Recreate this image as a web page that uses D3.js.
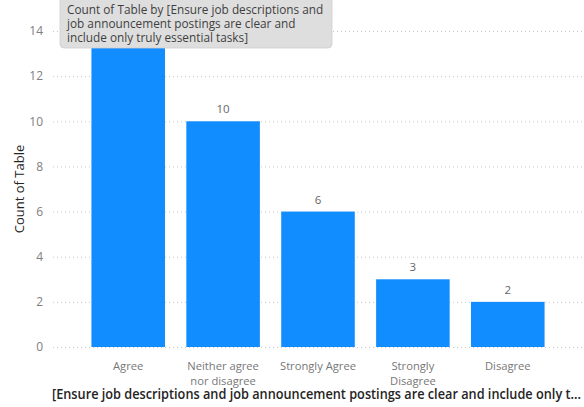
<!DOCTYPE html>
<html>
<head>
<meta charset="utf-8">
<script src="https://cdn.jsdelivr.net/npm/d3@7"></script>
<style>
  html, body { margin: 0; padding: 0; background: #fff; }
  svg { display: block; font-family: "Open Sans", "Noto Sans", sans-serif; }
</style>
</head>
<body>
<svg id="chart" width="584" height="407"></svg>
<script>
// Responses per answer
const categories = ["Agree", "Neither agree nor disagree", "Strongly Agree", "Strongly Disagree", "Disagree"];
const categoryLines = [["Agree"], ["Neither agree", "nor disagree"], ["Strongly Agree"], ["Strongly", "Disagree"], ["Disagree"]];
const counts = [14, 10, 6, 3, 2];
const yTicks = [0, 2, 4, 6, 8, 10, 12, 14];
const yTitle = "Count of Table";
const xTitle = "[Ensure job descriptions and job announcement postings are clear and include only t...";
const tooltipLines = [
  "Count of Table by [Ensure job descriptions and",
  "job announcement postings are clear and",
  "include only truly essential tasks]"
];

const svg = d3.select("#chart");
const plot = { left: 53, right: 584, top: 31, bottom: 347 };

const x = d3.scaleBand()
  .domain(categories)
  .range([81, 555])
  .paddingInner(0.225)
  .paddingOuter(0.11);

const y = d3.scaleLinear()
  .domain([0, 14])
  .range([plot.bottom, plot.top]);

// dotted gridlines
svg.append("g")
  .selectAll("line")
  .data(yTicks)
  .join("line")
  .attr("x1", plot.left)
  .attr("x2", plot.right)
  .attr("y1", d => y(d) + 0.5)
  .attr("y2", d => y(d) + 0.5)
  .attr("stroke", "#c8c8c8")
  .attr("stroke-width", 1)
  .attr("stroke-dasharray", "1,3");

// y axis tick labels
const yAxis = svg.append("g")
  .attr("transform", `translate(${43},0)`)
  .call(d3.axisLeft(y).tickValues(yTicks).tickSize(0).tickPadding(0));
yAxis.select(".domain").remove();
yAxis.selectAll("text")
  .attr("fill", "#808080")
  .style("font-size", "12px")
  .style("font-family", "\"Open Sans\", sans-serif");

// y axis title
svg.append("text")
  .attr("transform", `translate(24,${189}) rotate(-90)`)
  .attr("text-anchor", "middle")
  .attr("fill", "#252423")
  .style("font-size", "13px")
  .text(yTitle);

// bars
svg.append("g")
  .selectAll("rect")
  .data(categories)
  .join("rect")
  .attr("x", d => x(d))
  .attr("width", x.bandwidth())
  .attr("y", (d, i) => y(counts[i]))
  .attr("height", (d, i) => y(0) - y(counts[i]))
  .attr("fill", "#118DFF");

// value labels
svg.append("g")
  .selectAll("text")
  .data(categories)
  .join("text")
  .attr("x", d => x(d) + x.bandwidth() / 2)
  .attr("y", (d, i) => y(counts[i]) - 8)
  .attr("text-anchor", "middle")
  .attr("fill", "#666")
  .style("font-size", "11.5px")
  .text((d, i) => counts[i]);

// category labels
const catG = svg.append("g");
categories.forEach((c, i) => {
  const t = catG.append("text")
    .attr("x", x(c) + x.bandwidth() / 2)
    .attr("y", 370)
    .attr("text-anchor", "middle")
    .attr("fill", "#777")
    .style("font-size", "11.2px");
  categoryLines[i].forEach((line, j) => {
    t.append("tspan")
      .attr("x", x(c) + x.bandwidth() / 2)
      .attr("dy", j === 0 ? 0 : 14.5)
      .text(line);
  });
});

// x axis title
svg.append("text")
  .attr("x", 52)
  .attr("y", 399)
  .attr("fill", "#252423")
  .attr("textLength", 529)
  .attr("lengthAdjust", "spacingAndGlyphs")
  .style("font-size", "13.6px")
  .style("font-weight", "600")
  .text(xTitle);

// tooltip
const tip = svg.append("g");
tip.append("rect")
  .attr("x", 60)
  .attr("y", -6)
  .attr("width", 272)
  .attr("height", 54)
  .attr("rx", 4)
  .attr("fill", "#dedede")
  .attr("stroke", "#cfcfcf")
  .attr("stroke-width", 0.8);
tip.selectAll("text")
  .data(tooltipLines)
  .join("text")
  .attr("x", 67)
  .attr("y", (d, i) => 14 + i * 14)
  .attr("fill", "#3f3f3f")
  .style("font-size", "11.8px")
  .text(d => d);
</script>
</body>
</html>
